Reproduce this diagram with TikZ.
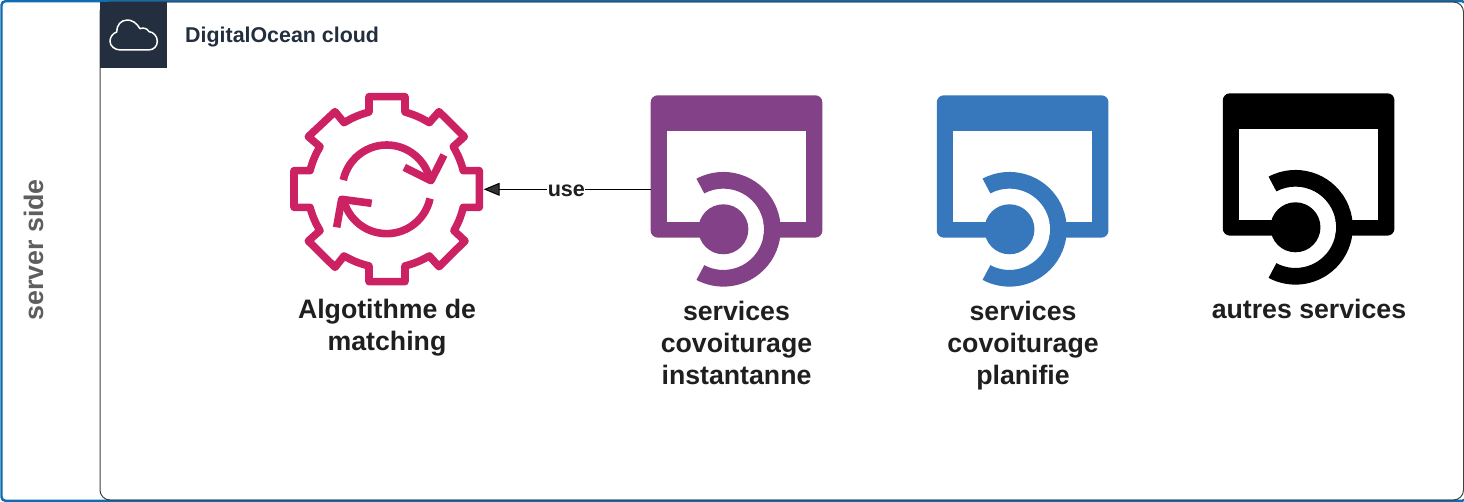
\documentclass[tikz,border=0pt]{standalone}
\usepackage{fontspec}
\setmainfont{Liberation Sans}
\usetikzlibrary{arrows.meta}
\definecolor{framecol}{HTML}{0F6CB0}
\definecolor{navy}{HTML}{232F3E}
\definecolor{pinkc}{HTML}{CC2264}
\definecolor{purplec}{HTML}{834187}
\definecolor{bluec}{HTML}{3778BD}
\definecolor{graytxt}{HTML}{5E5E5E}
\definecolor{labeltxt}{HTML}{1F1F1F}
\tikzset{
  anchorbox/.style={inner sep=0pt,outer sep=0pt,draw=none},
  biglabel/.style={font=\fontsize{26.7}{32}\selectfont\bfseries,text=labeltxt,align=center,anchor=north,inner sep=0pt},
  gearline/.style={pinkc,line width=7.6pt,line join=round},
  svcicon/.pic={
    \begin{scope}[x=0.3333pt,y=-0.3333pt]
      \fill[pic actions,rounded corners=7pt] (0,0) rectangle (515,427);
      \fill[white] (48,106) rectangle (466,380);
      \fill[white] (218,402) -- ++(-118:122) arc[start angle=-118,end angle=118,radius=122] -- cycle;
      \fill[pic actions] (218,402) ++(-118:172) arc[start angle=-118,end angle=118,radius=172]
        -- ++(-62:50) arc[start angle=118,end angle=-118,radius=122] -- cycle;
      \fill[pic actions] (218,402) circle[radius=75];
    \end{scope}
  }
}
\begin{document}
\begin{tikzpicture}[x=1pt,y=-1pt]
\useasboundingbox (0,0) rectangle (1464,502);
\fill[white] (0,0) rectangle (1464,502);
% outer frame
\draw[framecol,line width=2.4pt,rounded corners=4pt] (1.5,1.2) rectangle (1466,500.8);
% cloud group
\draw[black!75,line width=1pt,rounded corners=10pt] (100,2) rectangle (1463.5,500);
\fill[navy] (100,2) rectangle (166.5,68);
\begin{scope}[x=0.3333pt,y=-0.3333pt]
  \draw[white,line width=1.5pt,line join=round]
    (362,150) -- (445,150)
    .. controls (462,150) and (472,138) .. (472,124)
    .. controls (472,108) and (460,96) .. (447,95)
    .. controls (442,85) and (430,82) .. (420,86)
    .. controls (410,68) and (395,60) .. (382,60)
    .. controls (362,60) and (350,76) .. (350,96)
    .. controls (338,100) and (330,112) .. (330,124)
    .. controls (330,138) and (344,150) .. (362,150) -- cycle;
\end{scope}
\node[anchor=west,inner sep=0pt,font=\fontsize{21.4}{26}\selectfont\bfseries,text=navy] (cloudtitle) at (185,37.5) {DigitalOcean cloud};
\node[rotate=90,inner sep=0pt,font=\fontsize{26.8}{32}\selectfont\bfseries,text=graytxt] (sidetitle) at (33.5,250) {server side};
% gear
\node[anchor=center,anchorbox,minimum width=194pt,minimum height=194pt] (gear) at (386.7,189.3) {};
\begin{scope}[shift={(270,80)},x=0.3333pt,y=-0.3333pt]
  \draw[gearline]
    (297,50) -- (405,50) -- (405,96) to[bend left=7] (478,128) -- (507,95) -- (583,170) -- (550,200)
    to[bend left=7] (580,272) -- (628,272) -- (628,382) -- (580,382) to[bend left=7] (552,452)
    -- (585,483) -- (507,560) -- (478,528) to[bend left=7] (405,558) -- (405,605) -- (297,605)
    -- (297,558) to[bend left=7] (222,528) -- (195,562) -- (115,483) -- (150,452) to[bend left=7]
    (120,382) -- (72,382) -- (72,272) -- (120,272) to[bend left=7] (150,200) -- (115,170)
    -- (195,95) -- (222,128) to[bend left=7] (297,96) -- cycle;
  \draw[gearline] (350,328) ++(192:133) arc[start angle=192,end angle=348,radius=133];
  \draw[gearline] (350,328) ++(12:133) arc[start angle=12,end angle=166,radius=133];
  \draw[gearline] (403,262) -- (483,302) -- (522,225);
  \draw[gearline] (305,370) -- (215,358) -- (200,442);
\end{scope}
\node[biglabel] (gearlabel) at (387,298.5) {Algotithme de\\matching};
% services
\coordinate (svcApos) at (650.7,95.3);
\coordinate (svcBpos) at (936.8,95.3);
\coordinate (svcCpos) at (1222.8,93.3);
\pic[purplec] at (svcApos) {svcicon};
\pic[bluec] at (svcBpos) {svcicon};
\pic[black] at (svcCpos) {svcicon};
\node[anchorbox,anchor=north west,minimum width=171.7pt,minimum height=142.4pt] (svcA) at (svcApos) {};
\node[biglabel] (svcAlabel) at (736.5,300.5) {services\\covoiturage\\instantanne};
\node[biglabel] (svcBlabel) at (1023,300.5) {services\\covoiturage\\planifie};
\node[biglabel] (svcClabel) at (1309,298.5) {autres services};
% connector
\draw[black,line width=1pt,-{Triangle[length=16pt,width=13pt,fill=black!80!white]}] (svcA.west |- gear.east) -- node[fill=white,inner sep=0.5pt,yshift=-1pt,font=\fontsize{21.6}{26}\selectfont\bfseries,text=labeltxt,pos=0.505] (uselabel) {use} (gear.east);
\end{tikzpicture}
\end{document}
